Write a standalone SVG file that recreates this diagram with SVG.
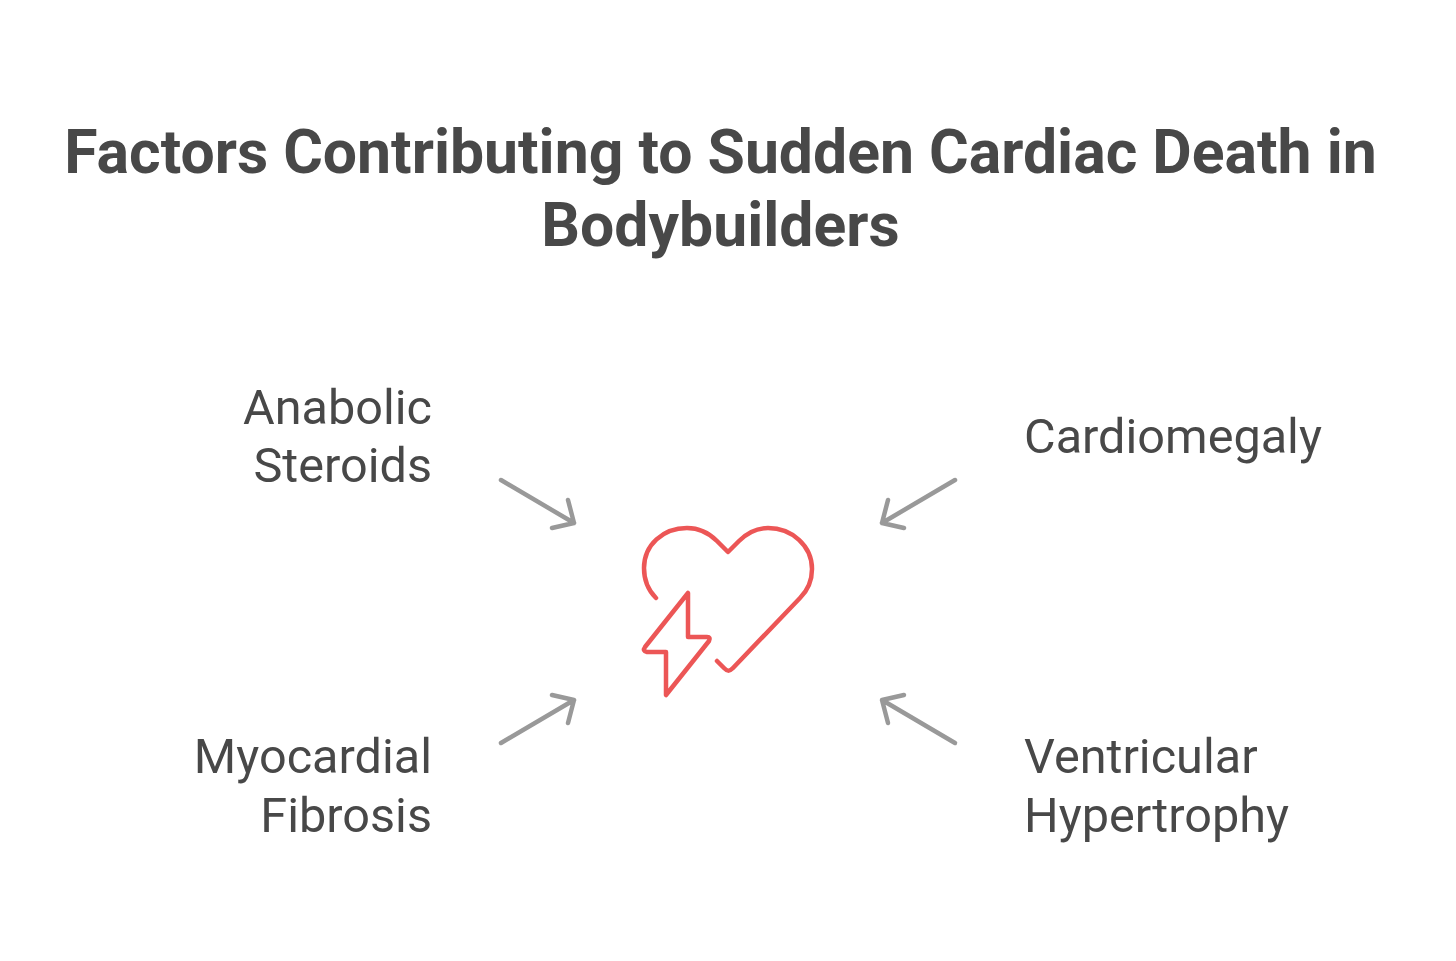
<svg xmlns="http://www.w3.org/2000/svg" width="1456" height="961" viewBox="0 0 1456 961">
<style>
text{font-family:Roboto,"Liberation Sans",sans-serif;fill:#484848}
.t{font-size:60.7px;font-weight:700;text-anchor:middle}
.l{font-size:48.6px}
.e{text-anchor:end}
.a{fill:none;stroke:#999;stroke-width:4.5;stroke-linecap:round;stroke-linejoin:round}
.h{fill:none;stroke:#ec5656;stroke-width:4.5;stroke-linecap:round;stroke-linejoin:round}
</style>
<rect width="1456" height="961" fill="#fff"/>
<g id="title"><text class="t" x="720.5" y="173">Factors Contributing to Sudden Cardiac Death in</text><text class="t" x="720.5" y="246">Bodybuilders</text></g>
<g id="connectors">
<path class="a" d="M501 480L574 523M552 528L574 523L568 500"/>
<path class="a" d="M955 480L882 523M904 528L882 523L888 500"/>
<path class="a" d="M501 743L574 700M552 695L574 700L568 723"/>
<path class="a" d="M955 743L882 700M904 695L882 700L888 723"/>
</g>
<g id="heart"><path class="h" d="M656 598C648 590 644 579 644 568C644 545 663 528 687 528C699 528 709 533 717 541L728 552L739 541C747 533 757 528 768 528C792 528 812 546 812 569C812 580 808 590 800 598L733 668C729 672 727 671 724 668L717 661"/>
<path class="h" d="M688 593L688 637L707 637Q711 637 709 641L666 695L666 652L647 652Q642 651 645 647Z"/></g>
<g id="n1"><text class="l e" x="432" y="424">Anabolic</text><text class="l e" x="432" y="482">Steroids</text></g>
<g id="n2"><text class="l" x="1024" y="453">Cardiomegaly</text></g>
<g id="n3"><text class="l e" x="432" y="773">Myocardial</text><text class="l e" x="432" y="831.5">Fibrosis</text></g>
<g id="n4"><text class="l" x="1024" y="773">Ventricular</text><text class="l" x="1024" y="831.5">Hypertrophy</text></g>
</svg>
